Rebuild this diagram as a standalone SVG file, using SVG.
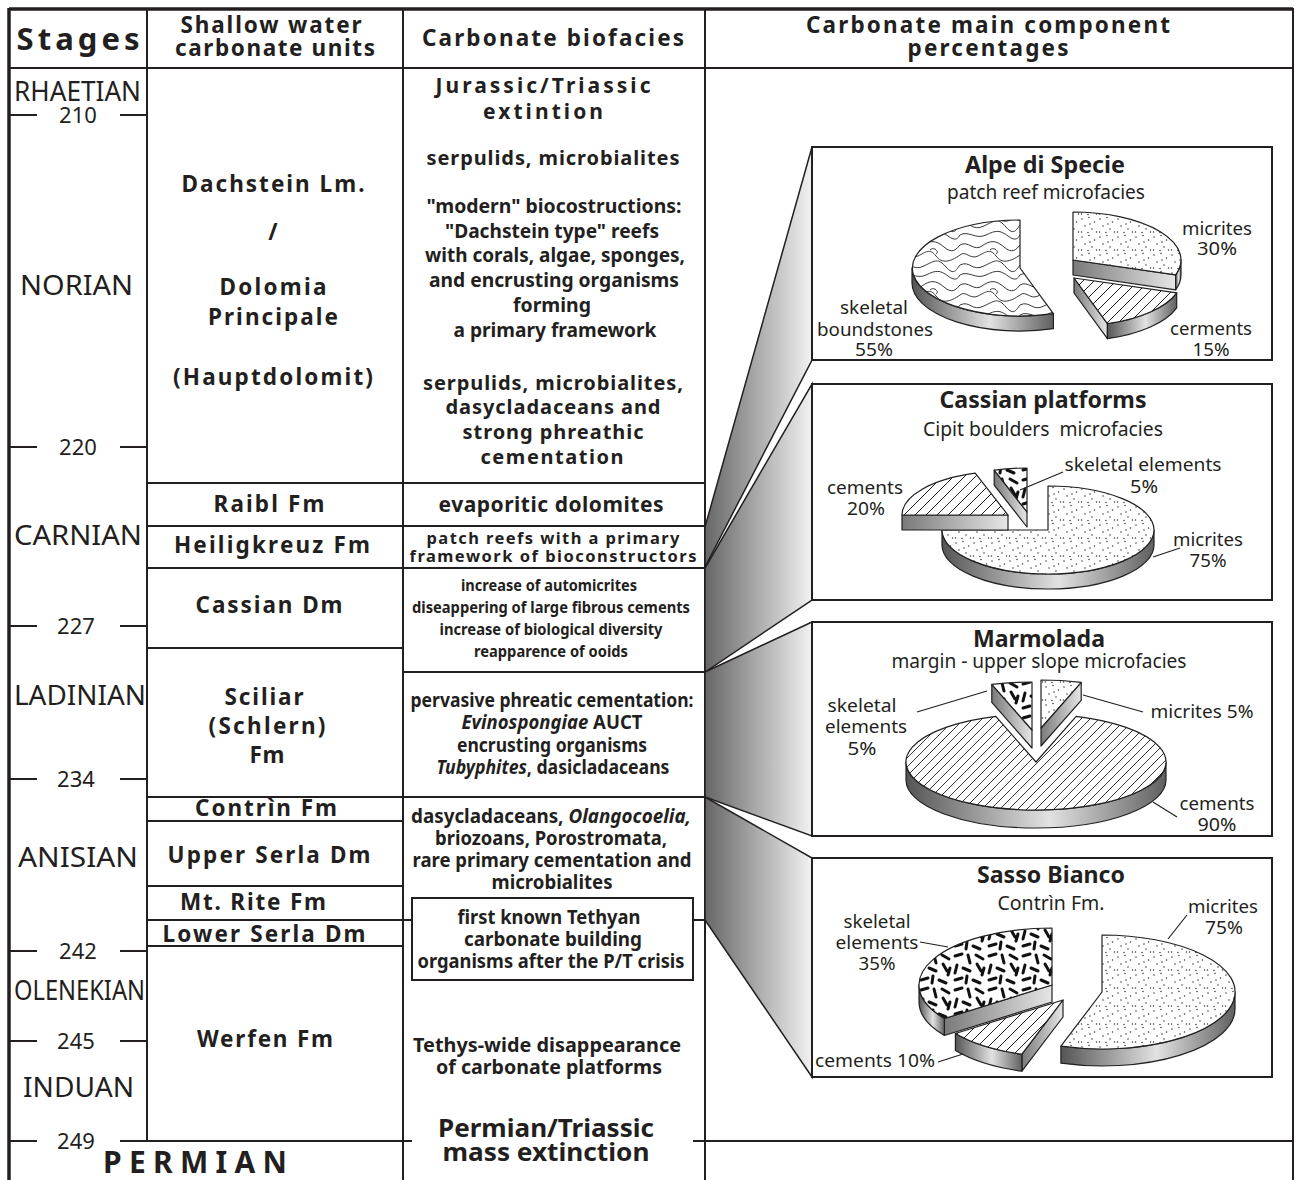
<svg xmlns="http://www.w3.org/2000/svg" width="1297" height="1180" viewBox="0 0 1297 1180">
<style>
text{font-family:"Noto Sans","Open Sans","Liberation Sans",sans-serif;fill:#231f20}
.st{font-size:28px}
.num{font-size:22px;text-anchor:middle}
.hd{font-size:22.5px;font-weight:bold;text-anchor:middle}
.u{font-size:22.5px;font-weight:bold;text-anchor:middle}
.bf{font-size:19px;font-weight:bold;text-anchor:middle}
.bs{font-size:16.5px;font-weight:bold;text-anchor:middle}
.pt{font-size:23px;font-weight:bold;text-anchor:middle}
.pl{font-size:18px;text-anchor:middle}
.ln{stroke:#231f20;stroke-width:2;fill:none}
.thick{stroke:#231f20;stroke-width:3.5;fill:none}
.edge{stroke:#231f20;stroke-width:1.2;stroke-linejoin:round}
.box{fill:#fff;stroke:#231f20;stroke-width:2}
.fun{fill:url(#fgrad);stroke:#231f20;stroke-width:1.5;stroke-linejoin:miter}
.lead{stroke:#231f20;stroke-width:1.2;fill:none}
</style>
<defs>
<linearGradient id="fgrad" x1="0" y1="0" x2="1" y2="0">
<stop offset="0" stop-color="#666"/><stop offset="1" stop-color="#f2f2f2"/>
</linearGradient>
<linearGradient id="side" x1="0" y1="0" x2="1" y2="0">
<stop offset="0" stop-color="#555"/><stop offset="0.55" stop-color="#e2e2e2"/><stop offset="1" stop-color="#606060"/>
</linearGradient>
<linearGradient id="face" x1="0" y1="0" x2="1" y2="0">
<stop offset="0" stop-color="#7a7a7a"/><stop offset="1" stop-color="#e6e6e6"/>
</linearGradient>
<pattern id="dots" width="18" height="18" patternUnits="userSpaceOnUse">
<rect width="18" height="18" fill="#fff"/>
<g fill="#333"><circle cx="2" cy="3" r="0.75"/><circle cx="9" cy="1.5" r="0.75"/><circle cx="14.5" cy="6" r="0.75"/><circle cx="5" cy="10" r="0.75"/><circle cx="12" cy="13" r="0.75"/><circle cx="16.5" cy="16" r="0.75"/><circle cx="1.5" cy="16" r="0.75"/><circle cx="8" cy="16.5" r="0.75"/><circle cx="10" cy="8" r="0.75"/></g>
</pattern>
<pattern id="hatch" width="11" height="11" patternUnits="userSpaceOnUse">
<rect width="11" height="11" fill="#fff"/>
<path d="M-1,1 L1,-1 M0,11 L11,0 M10,12 L12,10" stroke="#231f20" stroke-width="1"/>
</pattern>
<pattern id="hatch2" width="9" height="9" patternUnits="userSpaceOnUse">
<rect width="9" height="9" fill="#fff"/>
<path d="M-1,1 L1,-1 M0,9 L9,0 M8,10 L10,8" stroke="#231f20" stroke-width="0.9"/>
</pattern>
<pattern id="grains" width="34" height="34" patternUnits="userSpaceOnUse">
<rect width="34" height="34" fill="#fff"/>
<path d="M3,4 L10,2 M16,3 L18,11 M24,3 L31,7 M5,13 L3,21 M11,16 L18,19 M25,12 L29,19 M3,28 L10,26 M15,24 L14,31 M21,28 L28,31 M30,23 L32,16" stroke="#111" stroke-width="3" stroke-linecap="round"/>
</pattern>
<pattern id="bound" width="60" height="40" patternUnits="userSpaceOnUse">
<rect width="60" height="40" fill="#fff"/>
<g fill="none" stroke="#231f20" stroke-width="0.9">
<path d="M0,5 C8,0 14,12 22,6 S36,0 44,7 S56,10 60,5"/>
<path d="M0,15 C6,10 10,20 18,16 S30,8 36,16 S50,22 60,15"/>
<path d="M0,25 C10,20 12,32 24,26 S38,18 46,27 S56,30 60,25"/>
<path d="M0,35 C8,30 16,40 26,35 S40,30 48,36 S58,38 60,35"/>
<path d="M30,10 C34,6 40,12 36,14"/>
</g>
</pattern>
</defs>
<rect width="1297" height="1180" fill="#fff"/>

<g id="table">
<line class="thick" x1="9" y1="9" x2="1293" y2="9"/>
<line class="thick" x1="9" y1="8" x2="9" y2="1180"/>
<line class="ln" x1="1293" y1="8" x2="1293" y2="1180" stroke-width="3"/>
<line class="ln" x1="9" y1="68" x2="1293" y2="68" stroke-width="3"/>
<line class="ln" x1="147" y1="9" x2="147" y2="1141"/>
<line class="ln" x1="403" y1="9" x2="403" y2="1180"/>
<line class="ln" x1="705" y1="9" x2="705" y2="1180"/>
<path class="ln" d="M147,483 H705 M147,526 H705 M147,568 H705 M147,648 H403 M403,672 H705 M147,797 H705 M147,821 H403 M147,886 H403 M147,920 H412 M693,920 H705 M147,946 H403 M120,1141 H412 M693,1141 H1293"/>
<path class="ln" d="M10,115 H37 M120,115 H147 M10,447 H37 M120,447 H147 M10,626 H37 M120,626 H147 M10,779 H37 M120,779 H147 M10,951 H37 M120,951 H147 M10,1041 H37 M120,1041 H147 M10,1141 H37"/>
<rect x="412" y="898" width="281" height="82" fill="none" stroke="#231f20" stroke-width="2"/>
</g>

<g id="header">
<text class="hd" x="78" y="50" style="font-size:31px" textLength="123">Stages</text>
<text class="hd" x="271" y="33" textLength="181">Shallow water</text>
<text class="hd" x="275" y="56" textLength="200">carbonate units</text>
<text class="hd" x="553" y="46" textLength="262">Carbonate biofacies</text>
<text class="hd" x="988" y="33" textLength="364">Carbonate main component</text>
<text class="hd" x="988" y="56" textLength="161">percentages</text>
</g>

<g id="stages">
<text class="st" x="14" y="101" textLength="127" lengthAdjust="spacingAndGlyphs">RHAETIAN</text>
<text class="num" x="78" y="123">210</text>
<text class="st" x="20" y="295" textLength="113" lengthAdjust="spacingAndGlyphs">NORIAN</text>
<text class="num" x="78" y="455">220</text>
<text class="st" x="14" y="545" textLength="128" lengthAdjust="spacingAndGlyphs">CARNIAN</text>
<text class="num" x="76" y="634">227</text>
<text class="st" x="14" y="705" textLength="132" lengthAdjust="spacingAndGlyphs">LADINIAN</text>
<text class="num" x="76" y="787">234</text>
<text class="st" x="18" y="867" textLength="120" lengthAdjust="spacingAndGlyphs">ANISIAN</text>
<text class="num" x="78" y="959">242</text>
<text class="st" x="14" y="1000" textLength="131" lengthAdjust="spacingAndGlyphs">OLENEKIAN</text>
<text class="num" x="76" y="1049">245</text>
<text class="st" x="23" y="1097" textLength="111" lengthAdjust="spacingAndGlyphs">INDUAN</text>
<text class="num" x="76" y="1149">249</text>
<text x="195" y="1173" style="font-size:30px;font-weight:bold" text-anchor="middle" textLength="184">PERMIAN</text>
</g>

<g id="units">
<text class="u" x="273" y="192" textLength="183">Dachstein Lm.</text>
<text class="u" x="273" y="240">/</text>
<text class="u" x="273" y="295" textLength="107">Dolomia</text>
<text class="u" x="273" y="325" textLength="130">Principale</text>
<text class="u" x="273" y="385" textLength="200">(Hauptdolomit)</text>
<text class="u" x="269" y="512" textLength="111">Raibl Fm</text>
<text class="u" x="272" y="553" textLength="196">Heiligkreuz Fm</text>
<text class="u" x="269" y="613" textLength="147">Cassian Dm</text>
<text class="u" x="264" y="705" textLength="79">Sciliar</text>
<text class="u" x="267" y="734" textLength="117">(Schlern)</text>
<text class="u" x="267" y="763" textLength="35">Fm</text>
<text class="u" x="266" y="816" textLength="142">Contrìn Fm</text>
<text class="u" x="269" y="863" textLength="203">Upper Serla Dm</text>
<text class="u" x="253" y="910" textLength="146">Mt. Rite Fm</text>
<text class="u" x="264" y="942" textLength="203">Lower Serla Dm</text>
<text class="u" x="265" y="1047" textLength="136">Werfen Fm</text>
</g>

<g id="biofacies">
<text class="bf" x="543" y="93" style="font-size:21px" textLength="215">Jurassic/Triassic</text>
<text class="bf" x="543" y="119" style="font-size:21px" textLength="120">extintion</text>
<text class="bf" x="553" y="165" style="font-size:20px" textLength="253">serpulids, microbialites</text>
<text class="bf" x="554" y="213" textLength="255" lengthAdjust="spacingAndGlyphs">"modern" biocostructions:</text>
<text class="bf" x="552" y="238" textLength="214" lengthAdjust="spacingAndGlyphs">"Dachstein type" reefs</text>
<text class="bf" x="555" y="262" textLength="260" lengthAdjust="spacingAndGlyphs">with corals, algae, sponges,</text>
<text class="bf" x="554" y="287" textLength="250" lengthAdjust="spacingAndGlyphs">and encrusting organisms</text>
<text class="bf" x="552" y="312" textLength="78" lengthAdjust="spacingAndGlyphs">forming</text>
<text class="bf" x="555" y="337" textLength="203" lengthAdjust="spacingAndGlyphs">a primary framework</text>
<text class="bf" x="553" y="390" style="font-size:20px" textLength="260">serpulids, microbialites,</text>
<text class="bf" x="553" y="414" style="font-size:20px" textLength="215">dasycladaceans and</text>
<text class="bf" x="553" y="439" style="font-size:20px" textLength="181">strong phreathic</text>
<text class="bf" x="552" y="464" style="font-size:20px" textLength="143">cementation</text>
<text class="bf" x="551" y="512" style="font-size:21px" textLength="225">evaporitic dolomites</text>
<text class="bs" x="553" y="544" textLength="253">patch reefs with a primary</text>
<text class="bs" x="553" y="562" textLength="287">framework of bioconstructors</text>
<text class="bs" x="549" y="591" textLength="176" lengthAdjust="spacingAndGlyphs">increase of automicrites</text>
<text class="bs" x="551" y="613" textLength="278" lengthAdjust="spacingAndGlyphs">diseappering of large fibrous cements</text>
<text class="bs" x="551" y="635" textLength="223" lengthAdjust="spacingAndGlyphs">increase of biological diversity</text>
<text class="bs" x="551" y="657" textLength="154" lengthAdjust="spacingAndGlyphs">reapparence of ooids</text>
<text class="bf" x="552" y="707" textLength="283" lengthAdjust="spacingAndGlyphs">pervasive phreatic cementation:</text>
<text class="bf" x="552" y="729" textLength="181" lengthAdjust="spacingAndGlyphs"><tspan font-style="italic">Evinospongiae</tspan> AUCT</text>
<text class="bf" x="552" y="752" textLength="190" lengthAdjust="spacingAndGlyphs">encrusting organisms</text>
<text class="bf" x="553" y="774" textLength="233" lengthAdjust="spacingAndGlyphs"><tspan font-style="italic">Tubyphites</tspan>, dasicladaceans</text>
<text class="bf" x="551" y="823" textLength="280" lengthAdjust="spacingAndGlyphs">dasycladaceans, <tspan font-style="italic">Olangocoelia,</tspan></text>
<text class="bf" x="551" y="845" textLength="232" lengthAdjust="spacingAndGlyphs">briozoans, Porostromata,</text>
<text class="bf" x="552" y="867" textLength="279" lengthAdjust="spacingAndGlyphs">rare primary cementation and</text>
<text class="bf" x="552" y="889" textLength="121" lengthAdjust="spacingAndGlyphs">microbialites</text>
<text class="bf" x="549" y="924" textLength="183" lengthAdjust="spacingAndGlyphs">first known Tethyan</text>
<text class="bf" x="553" y="946" textLength="178" lengthAdjust="spacingAndGlyphs">carbonate building</text>
<text class="bf" x="551" y="968" textLength="267" lengthAdjust="spacingAndGlyphs">organisms after the P/T crisis</text>
<text class="bf" x="547" y="1052" textLength="268" lengthAdjust="spacingAndGlyphs">Tethys-wide disappearance</text>
<text class="bf" x="549" y="1074" textLength="226" lengthAdjust="spacingAndGlyphs">of carbonate platforms</text>
<text class="bf" x="546" y="1137" style="font-size:25px" textLength="216" lengthAdjust="spacingAndGlyphs">Permian/Triassic</text>
<text class="bf" x="546" y="1161" style="font-size:25px" textLength="207" lengthAdjust="spacingAndGlyphs">mass extinction</text>
</g>

<g id="connectors">
<polygon class="fun" points="705,527 812,147 812,360 705,567"/>
<polygon class="fun" points="705,568 812,384 812,600 705,672"/>
<polygon class="fun" points="705,672 812,622 812,836 705,797"/>
<polygon class="fun" points="705,797 812,858 812,1077 705,920"/>
</g>

<g id="pie-alpe-di-specie">
<rect class="box" x="812" y="147" width="460" height="213"/>
<text class="pt" x="1045" y="173" textLength="160" lengthAdjust="spacingAndGlyphs">Alpe di Specie</text>
<text class="pl" x="1046" y="199" style="font-size:19px" textLength="198" lengthAdjust="spacingAndGlyphs">patch reef microfacies</text>
<path class="edge" fill="url(#side)" d="M912,268 A108,48 0 0,0 1053.4,313.7 L1053.4,328.7 A108,48 0 0,1 912,283 Z"/>
<path class="edge" fill="url(#bound)" d="M1020,268 L1020,220 A108,48 0 1,0 1053.4,313.7 Z"/>
<path class="edge" fill="url(#face)" d="M1073,260 L1175.7,274.8 L1175.7,289.8 L1073,275 Z"/>
<path class="edge" fill="url(#side)" d="M1175.7,274.8 A108,48 0 0,0 1181,260 L1181,275 A108,48 0 0,1 1175.7,289.8 Z"/>
<path class="edge" fill="url(#dots)" d="M1073,260 L1175.7,274.8 A108,48 0 0,0 1073,212 Z"/>
<path class="edge" fill="url(#face)" d="M1074,278 L1107.4,323.7 L1107.4,338.7 L1074,293 Z"/>
<path class="edge" fill="url(#side)" d="M1107.4,323.7 A108,48 0 0,0 1176.7,292.8 L1176.7,307.8 A108,48 0 0,1 1107.4,338.7 Z"/>
<path class="edge" fill="url(#hatch)" d="M1074,278 L1107.4,323.7 A108,48 0 0,0 1176.7,292.8 Z"/>
<text class="pl" x="1217" y="235" textLength="70" lengthAdjust="spacingAndGlyphs">micrites</text>
<text class="pl" x="1217" y="255" textLength="40" lengthAdjust="spacingAndGlyphs">30%</text>
<text class="pl" x="874" y="314" textLength="68" lengthAdjust="spacingAndGlyphs">skeletal</text>
<text class="pl" x="875" y="336" textLength="116" lengthAdjust="spacingAndGlyphs">boundstones</text>
<text class="pl" x="874" y="356" textLength="38" lengthAdjust="spacingAndGlyphs">55%</text>
<text class="pl" x="1211" y="335" textLength="82" lengthAdjust="spacingAndGlyphs">cerments</text>
<text class="pl" x="1211" y="356" textLength="37" lengthAdjust="spacingAndGlyphs">15%</text>
</g>

<g id="pie-cassian-platforms">
<rect class="box" x="812" y="384" width="460" height="216"/>
<text class="pt" x="1043" y="408" textLength="207" lengthAdjust="spacingAndGlyphs">Cassian platforms</text>
<text class="pl" x="1043" y="436" style="font-size:19px" textLength="240" lengthAdjust="spacingAndGlyphs" xml:space="preserve">Cipit boulders  microfacies</text>
<path class="edge" fill="url(#side)" d="M942,530 A106,44 0 0,0 1154,530 L1154,545 A106,44 0 0,1 942,545 Z"/>
<path class="edge" fill="url(#dots)" d="M1048,530 L942,530 A106,44 0 1,0 1048,486 Z"/>
<path class="edge" fill="url(#face)" d="M902,515 L1008,515 L1008,530 L902,530 Z"/>
<path class="edge" fill="url(#hatch)" d="M1008,515 L975.2,473.2 A106,44 0 0,0 902,515 Z"/>
<path class="edge" fill="url(#face)" d="M1027,512 L994.2,470.2 L994.2,485.2 L1027,527 Z"/>
<path class="edge" fill="url(#grains)" d="M1027,512 L1027,468 A106,44 0 0,0 994.2,470.2 Z"/>
<line class="lead" x1="1063" y1="472" x2="1020" y2="490"/>
<line class="lead" x1="1180" y1="548" x2="1153" y2="557"/>
<text class="pl" x="1143" y="471" textLength="157" lengthAdjust="spacingAndGlyphs">skeletal elements</text>
<text class="pl" x="1144" y="493" textLength="28" lengthAdjust="spacingAndGlyphs">5%</text>
<text class="pl" x="865" y="494" textLength="76" lengthAdjust="spacingAndGlyphs">cements</text>
<text class="pl" x="866" y="515" textLength="38" lengthAdjust="spacingAndGlyphs">20%</text>
<text class="pl" x="1208" y="546" textLength="70" lengthAdjust="spacingAndGlyphs">micrites</text>
<text class="pl" x="1208" y="567" textLength="37" lengthAdjust="spacingAndGlyphs">75%</text>
</g>

<g id="pie-marmolada">
<rect class="box" x="812" y="622" width="460" height="214"/>
<text class="pt" x="1039" y="647" textLength="132" lengthAdjust="spacingAndGlyphs">Marmolada</text>
<text class="pl" x="1039" y="668" style="font-size:19px" textLength="295" lengthAdjust="spacingAndGlyphs">margin - upper slope microfacies</text>
<path class="edge" fill="url(#side)" d="M906,762 A130,48 0 0,0 1166,762 L1166,780 A130,48 0 0,1 906,780 Z"/>
<path class="edge" fill="url(#hatch2)" d="M1036,762 L995.8,716.4 A130,48 0 1,0 1076.2,716.4 Z"/>
<path class="edge" fill="url(#face)" d="M1032,730 L991.8,684.4 L991.8,702.4 L1032,748 Z"/>
<path class="edge" fill="url(#grains)" d="M1032,730 L1032,682 A130,48 0 0,0 991.8,684.4 Z"/>
<path class="edge" fill="url(#face)" d="M1041,728 L1081.2,682.4 L1081.2,700.4 L1041,746 Z"/>
<path class="edge" fill="url(#dots)" d="M1041,728 L1081.2,682.4 A130,48 0 0,0 1041,680 Z"/>
<line class="lead" x1="917" y1="712" x2="987" y2="691"/>
<line class="lead" x1="1143" y1="712" x2="1083" y2="695"/>
<line class="lead" x1="1177" y1="817" x2="1153" y2="802"/>
<text class="pl" x="862" y="712" textLength="69" lengthAdjust="spacingAndGlyphs">skeletal</text>
<text class="pl" x="866" y="733" textLength="82" lengthAdjust="spacingAndGlyphs">elements</text>
<text class="pl" x="862" y="755" textLength="29" lengthAdjust="spacingAndGlyphs">5%</text>
<text class="pl" x="1202" y="718" textLength="103" lengthAdjust="spacingAndGlyphs">micrites 5%</text>
<text class="pl" x="1217" y="810" textLength="75" lengthAdjust="spacingAndGlyphs">cements</text>
<text class="pl" x="1217" y="831" textLength="39" lengthAdjust="spacingAndGlyphs">90%</text>
</g>

<g id="pie-sasso-bianco">
<rect class="box" x="812" y="858" width="460" height="219"/>
<text class="pt" x="1051" y="883" textLength="148" lengthAdjust="spacingAndGlyphs">Sasso Bianco</text>
<text class="pl" x="1051" y="910" style="font-size:19px" textLength="107" lengthAdjust="spacingAndGlyphs">Contrìn Fm.</text>
<path class="edge" fill="url(#face)" d="M1052,985 L944.4,1018.5 L944.4,1035.5 L1052,1002 Z"/>
<path class="edge" fill="url(#side)" d="M919,985 A133,57 0 0,0 944.4,1018.5 L944.4,1035.5 A133,57 0 0,1 919,1002 Z"/>
<path class="edge" fill="url(#grains)" d="M1052,985 L1052,928 A133,57 0 0,0 944.4,1018.5 Z"/>
<path class="edge" fill="url(#face)" d="M1063,1000 L1021.9,1054.2 L1021.9,1071.2 L1063,1017 Z"/>
<path class="edge" fill="url(#side)" d="M955.4,1033.5 A133,57 0 0,0 1021.9,1054.2 L1021.9,1071.2 A133,57 0 0,1 955.4,1050.5 Z"/>
<path class="edge" fill="url(#hatch)" d="M1063,1000 L955.4,1033.5 A133,57 0 0,0 1021.9,1054.2 Z"/>
<path class="edge" fill="url(#side)" d="M1060.9,1046.2 A133,57 0 0,0 1235,992 L1235,1009 A133,57 0 0,1 1060.9,1063.2 Z"/>
<path class="edge" fill="url(#dots)" d="M1102,992 L1060.9,1046.2 A133,57 0 1,0 1102,935 Z"/>
<line class="lead" x1="920" y1="942" x2="948" y2="947"/>
<line class="lead" x1="1187" y1="915" x2="1168" y2="939"/>
<line class="lead" x1="938" y1="1062" x2="963" y2="1054"/>
<text class="pl" x="877" y="928" textLength="67" lengthAdjust="spacingAndGlyphs">skeletal</text>
<text class="pl" x="877" y="949" textLength="83" lengthAdjust="spacingAndGlyphs">elements</text>
<text class="pl" x="877" y="970" textLength="37" lengthAdjust="spacingAndGlyphs">35%</text>
<text class="pl" x="1223" y="913" textLength="70" lengthAdjust="spacingAndGlyphs">micrites</text>
<text class="pl" x="1224" y="934" textLength="38" lengthAdjust="spacingAndGlyphs">75%</text>
<text class="pl" x="875" y="1067" textLength="120" lengthAdjust="spacingAndGlyphs">cements 10%</text>
</g>
</svg>
